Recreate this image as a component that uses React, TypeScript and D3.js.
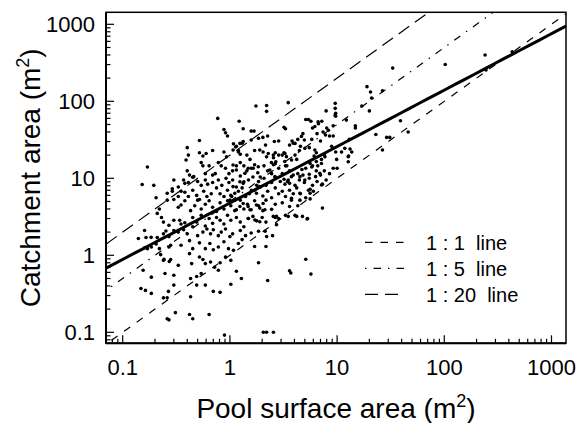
import React from 'react';
import * as d3 from 'd3';

// [pool surface area (m2), catchment area (m2)]
const points: [number, number][] = [
  [240,400],[102,300],[33,270],[19,155],[20.5,132],[26.5,137],[21,110],[17,87],[20,75],[9.6,94],[9.6,81],[9.6,66],[7.9,75],[3.5,96],[1.75,87],[2.2,88],[2.2,74],[0.77,60],[245,255],[430,440],
  [1.22,55],[0.88,43],[0.91,39],[0.95,35.5],[1.33,44],[1.58,41],[1.68,41],[0.52,31],[3.3,44],[3.2,46],[5.1,58],[5.4,58],[5.7,55],[7.2,55],[5.9,45],[8.0,45],[8.3,42],[9.2,48],[8.5,35.5],[9.2,35.5],[6.5,38],[4.8,38],[4.3,32],[2.25,35.5],[2.85,30.5],[3.8,30.5],[3.9,28.5],[4.95,31.5],[5.8,32],[7.0,30.5],[14.8,48],[14.8,45],[39,56],[23,37],[29,34],[31,34],[46,40],[13,32],[1.08,28],[1.15,26],[1.58,31.5],[1.85,33],[2.03,34],[1.3,28.5],
  [6.65,54],[6.7,51],[6.2,47],[7.4,40],[7.8,36.5],[9.7,70],[9.7,64],[12.2,57],[26.5,23.3],[9.9,17.6],[12.7,19.1],[12.7,16.4],[11,22],[7.15,17.6],[7.15,15.6],[6.4,16.5],[6.2,23.3],[6.4,21.5],[5,24.5],[4.65,35],[4.05,28.4],[2.6,30],[3.6,27],[3.76,17.3],[4.2,17.6],[3.26,21],[3.37,19.1],[2.28,21],[2.54,20],[2.44,16],[2.68,16.4],[2.36,12.8],[2.63,10.5],[3.5,9.5],[3.6,8.6],[3.26,8.4],[4.5,10.5],[4.8,11],[5,9.5],[5.6,15.6],[5.8,14],[6.9,11.6],[7.15,8.2],[5.4,7.0],[5.6,6.4],[4.5,6.4],[4.5,5.2],[5.25,2.96],[4.2,3.2],[3.6,4.3],[3.5,3.2],[2.72,3.2],[2.54,3.2],[2.72,2.5],[2.04,4.7],[1.9,4.1],[2.12,3.9],[1.48,4.3],[1.54,3.9],[1.77,4.5],[1.15,3.9],[1.24,4.3],[1.33,4.7],[1.48,3.0],[1.71,2.87],[1.9,2.73],[1.59,7.0],[1.77,6.4],[1.9,7.8],[1.24,9.0],[1.33,8.6],[1.07,7.8],[1.11,6.4],[1.04,5.8],[1.0,5.2],[1.38,11.6],[1.48,13.5],[1.15,12.8],[1.07,14.9],[1.65,13.5],[1.84,14.1],[1.9,23.3],[2.04,22],[2.2,19],[1.54,17.6],[1.07,23.3],[1.2,22],[1.24,28.4],[1.33,30],
  [0.4,25],[0.41,20],[0.52,21.5],[0.56,19.5],[0.69,23],[0.88,22],[0.93,19],[1.13,25.5],[1.2,23],[1.25,20.5],[1.44,20],[1.7,23],[2.15,27],[2.65,21.5],[2.85,20],[3.08,20],[3.2,21.5],[2.55,18.5],[2.65,15.5],[3.25,16.5],[3.4,14.5],[4.05,20],[4.45,23],[4.55,26],[5.5,25],[6.1,19.5],[7.6,20],[7.7,19],[8.9,26],[9.7,22],[11.8,24.5],[13.2,24],[13.7,22],
  [0.17,14],[0.4,12.5],[0.54,16],[0.56,14.5],[0.45,10.3],[0.42,11],[0.59,11.5],[0.64,14.5],[0.78,16],[0.83,14.5],[0.73,11.5],[0.69,11],[0.91,13.5],[0.98,11.5],[1.06,12.5],[1.15,14.5],[1.25,16],[1.35,14.5],[1.44,12.5],[1.58,13.5],[1.7,15],[1.82,11.8],[1.92,10.4],[2.08,14.5],[2.25,12.5],[2.45,11.5],[2.55,15],[2.85,13.5],[3.08,11.5],[3.3,14.5],[3.6,12.5],[3.9,11],[4.3,11.5],[4.7,13],[5.1,13.5],[5.5,11.3],[5.9,14.5],[6.4,12.5],[6.6,14.5],[7.0,11],[7.6,12.5],[8.5,11.5],[9.2,13.5],[10,13.5],[12.8,19.5],
  [0.39,17.3],[0.6,21],[0.26,6.4],[0.29,7.3],[0.21,3.5],[0.23,3.1],
  [0.152,8.3],[0.195,8.1],[0.3,9.5],[0.33,7.7],[0.37,9.5],[0.38,8.6],[0.41,8.8],[0.46,10.5],[0.5,9.1],[0.54,8.1],[0.59,9.5],[0.62,8.4],[0.69,8.8],[0.78,9.5],[0.84,8.1],[0.92,10],[0.98,8.8],[1.06,9.5],[1.15,7.7],[1.25,10.7],[1.35,9],[1.49,9.5],[1.64,10.4],[1.78,8.1],[1.85,9.1],[2.08,10],[2.17,8.1],[2.45,8.8],[2.65,10.3],[2.95,9.1],[3.2,9.7],[3.45,9.1],[3.75,10.5],[4.05,8.1],[4.45,9.5],[4.95,8.8],[5.5,10],[5.9,8.1],[6.5,9.1],[7.3,8.4],[7.9,9.5],[6.3,10.5],
  [0.205,5.6],[0.29,6.8],[0.33,5.8],[0.35,6.8],[0.38,6.6],[0.41,5.8],[0.45,7],[0.49,6],[0.52,5.3],[0.57,6.8],[0.61,5.8],[0.67,6.3],[0.75,7.5],[0.81,6.3],[0.88,5.8],[0.95,7],[1.02,6],[1.11,5.2],[1.2,6.8],[1.3,7.5],[1.4,5.8],[1.52,6.3],[1.7,7],[1.92,7.7],[2.03,5.9],[2.25,6.8],[2.45,5.6],[2.65,7.5],[2.85,6.3],[3.08,6.8],[3.3,5.8],[3.6,7],[3.9,6.3],[4.2,7.5],[4.55,6.3],[5.1,5.6],[5.6,7.2],[6.0,6.8],[3.75,5.5],
  [0.22,4],[0.26,5.2],[0.3,5.3],[0.33,4.2],[0.35,4.5],[0.38,5.1],[0.43,3.8],[0.47,4.4],[0.5,5.2],[0.54,4],[0.59,4.6],[0.64,5.1],[0.69,4.2],[0.75,3.7],[0.81,4.8],[0.88,4],[0.95,5.1],[1.02,4.4],[1.11,3.8],[1.25,5.2],[1.35,4],[1.46,4.6],[1.58,3.9],[1.7,5.1],[1.85,4.4],[2.03,3.8],[2.17,5.2],[2.45,3.95],[2.65,4.6],[3.08,4.8],[3.75,5.2],[4.3,4.4],[5.6,5.4],[7.3,4.1],
  [0.24,2.7],[0.27,2.45],[0.3,2.85],[0.34,2.85],[0.35,2.55],[0.38,2.65],[0.45,3.1],[0.49,2.7],[0.54,3.3],[0.59,2.4],[0.64,3],[0.69,2.6],[0.75,3.1],[0.81,2.85],[0.88,2.55],[0.95,3.3],[1.02,2.85],[1.15,3.1],[1.25,2.7],[1.35,2.35],[1.49,3],[1.64,3.2],[1.78,2.8],[2.0,3.1],[2.17,2.7],[2.65,3.1],[2.85,3],[3.3,3.3],[4.05,3.3],[4.75,3.2],[5.3,3],
  [0.16,2.1],[0.165,1.7],[0.21,1.7],[0.24,1.9],[0.27,1.75],[0.3,2.1],[0.33,2.0],[0.37,2.15],[0.4,1.9],[0.45,2.35],[0.5,1.8],[0.56,2.0],[0.61,2.2],[0.66,1.9],[0.7,2.15],[0.78,1.8],[0.83,2.0],[0.91,2.2],[1.0,1.75],[1.06,1.9],[1.25,2.1],[1.3,1.6],[1.4,1.8],[1.58,1.95],[1.85,2.05],[2.2,1.75],[2.5,1.8],[2.13,2.05],[0.184,1.71],[0.253,2.07],
  [0.14,1.65],[0.16,1.25],[0.17,1.22],[0.185,1.28],[0.205,1.4],[0.22,1.22],[0.27,1.28],[0.28,1.35],[0.35,1.35],[0.42,1.55],[0.45,1.22],[0.52,1.45],[0.59,1.22],[0.65,1.42],[0.7,1.18],[0.78,1.28],[0.88,1.5],[0.97,1.22],[1.08,1.16],[1.2,1.42],[1.7,1.3],[2.17,1.3],[0.226,1.02],[0.243,0.885],[0.272,0.83],
  [0.24,0.86],[0.28,0.88],[0.33,0.74],[0.42,1.05],[0.44,0.78],[0.52,0.95],[0.56,0.88],[0.59,0.78],[0.66,0.82],[0.72,0.7],[0.81,0.8],[0.91,0.95],[1.02,0.86],[1.85,0.8],[5.1,0.89],
  [0.155,0.64],[0.185,0.52],[0.3,0.55],[0.43,0.5],[0.49,0.53],[0.54,0.58],[0.78,0.64],[1.15,0.62],[1.28,0.5],[2.25,0.47],[3.6,0.63],[3.7,0.59],[5.7,0.57],[0.248,0.58],[0.267,0.34],
  [0.148,0.37],[0.163,0.35],[0.185,0.32],[0.24,0.28],[0.26,0.28],[0.3,0.41],[0.43,0.29],[0.49,0.41],[0.59,0.41],[0.7,0.34],[0.81,0.33],[1.02,0.42],
  [0.31,0.18],[0.42,0.17],[0.45,0.15],[0.64,0.17],[0.26,0.15],[0.27,0.145],[0.89,0.092],[2.05,0.1],[2.2,0.1],[2.55,0.1],
];

const tickValues = [0.1, 1, 10, 100, 1000];
const tickLabels = ['0.1', '1', '10', '100', '1000'];
const refRatios = [1, 5, 20];
const legendLabels = ['1 : 1  line', '1 : 5  line', '1 : 20  line'];
const fitCoef = 4.78;
const fitExp = 0.733;

const dashes = ['7.5,8', '1.5,7,7.5,7', '13,7'];
const FONT = '"Liberation Sans", Arial, Helvetica, sans-serif';

export default function App() {
  const W = 576, H = 423;
  const L = 106, R = 566, T = 12.3, B = 343.3;
  const x = d3.scaleLog().domain([0.1, 1000]).range([122.7, 551.5]);
  const y = d3.scaleLog().domain([0.1, 1000]).range([332.3, 24.3]);
  const xMin = x.invert(L), xMax = x.invert(R);
  const yMin = y.invert(B), yMax = y.invert(T);

  const minor = (lo: number, hi: number) => {
    const out: { v: number; major: boolean }[] = [];
    for (let d = -3; d <= 4; d++) {
      for (let m = 1; m <= 9; m++) {
        const v = m * Math.pow(10, d);
        if (v >= lo * 1.0001 && v <= hi * 0.9999) out.push({ v, major: m === 1 });
      }
    }
    return out;
  };
  const xTicks = minor(xMin, xMax);
  const yTicks = minor(yMin, yMax);

  const line = d3.line<[number, number]>().x(d => x(d[0])).y(d => y(d[1]));
  const fitPts: [number, number][] = d3.range(0, 51).map(i => {
    const lx = Math.log10(xMin) + (Math.log10(xMax) - Math.log10(xMin)) * i / 50;
    const xv = Math.pow(10, lx);
    return [xv, fitCoef * Math.pow(xv, fitExp)];
  });

  return (
    <svg width={W} height={H} style={{ position: 'absolute', left: 0, top: 0, background: '#fff' }} fontFamily={FONT}>
      <defs>
        <clipPath id="plotclip">
          <rect x={L} y={T} width={R - L} height={B - T} />
        </clipPath>
      </defs>
      <g clipPath="url(#plotclip)">
        {refRatios.map((r, i) => (
          <path key={r} d={line([[xMin / 2, (xMin / 2) * r], [xMax * 2, xMax * 2 * r]]) || ''}
            fill="none" stroke="#000" strokeWidth={1.2} strokeDasharray={dashes[i]} />
        ))}
        <path d={line(fitPts) || ''} fill="none" stroke="#000" strokeWidth={3} />
        {points.map((p, i) => (
          <circle key={i} cx={x(p[0])} cy={y(p[1])} r={1.8} fill="#000" />
        ))}
      </g>
      {/* frame */}
      <rect x={L} y={T} width={R - L} height={B - T} fill="none" stroke="#000" strokeWidth={1.5} />
      <line x1={L} x2={L} y1={T} y2={B} stroke="#000" strokeWidth={2} />
      <line x1={L} x2={R} y1={B} y2={B} stroke="#000" strokeWidth={2} />
      {/* ticks */}
      {xTicks.map((t, i) => (
        <line key={'xt' + i} x1={x(t.v)} x2={x(t.v)} y1={B} y2={B - (t.major ? 8 : 4.5)} stroke="#000" strokeWidth={1.2} />
      ))}
      {yTicks.map((t, i) => (
        <line key={'yt' + i} x1={L} x2={L + (t.major ? 8 : 4.5)} y1={y(t.v)} y2={y(t.v)} stroke="#000" strokeWidth={1.2} />
      ))}
      {tickValues.map((v, i) => (
        <text key={'xl' + i} x={x(v)} y={375} textAnchor="middle" fontSize={22}>{tickLabels[i]}</text>
      ))}
      {tickValues.map((v, i) => (
        <text key={'yl' + i} x={95} y={y(v) + 8} textAnchor="end" fontSize={22}>{tickLabels[i]}</text>
      ))}
      {/* axis titles */}
      <text x={(L + R) / 2} y={418} textAnchor="middle" fontSize={28}>
        Pool surface area (m<tspan dy={-11} fontSize={18}>2</tspan><tspan dy={11}>)</tspan>
      </text>
      <text transform={`translate(40,${(T + B) / 2}) rotate(-90)`} textAnchor="middle" fontSize={28}>
        Catchment area (m<tspan dy={-11} fontSize={18}>2</tspan><tspan dy={11}>)</tspan>
      </text>
      {/* legend */}
      {legendLabels.map((lab, i) => {
        const ly = 242.3 + i * 26;
        return (
          <g key={lab}>
            <line x1={365} x2={405} y1={ly} y2={ly} stroke="#000" strokeWidth={1.2} strokeDasharray={dashes[i]} />
            <text x={426} y={ly + 7.5} fontSize={20} style={{ whiteSpace: 'pre' }}>{lab}</text>
          </g>
        );
      })}
    </svg>
  );
}
